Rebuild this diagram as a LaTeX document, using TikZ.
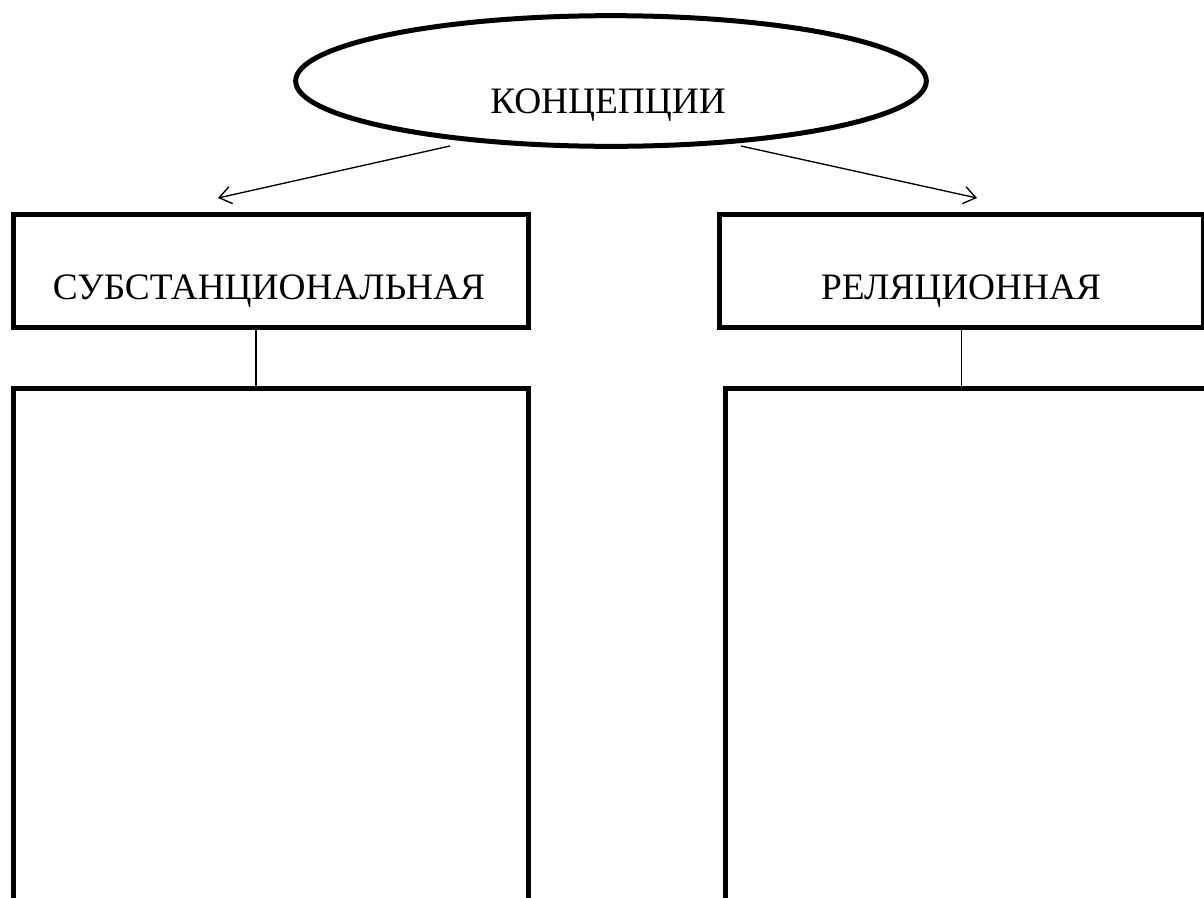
\documentclass[tikz,border=0pt]{standalone}
\usepackage{fontspec}
\setmainfont{Liberation Serif}
\usetikzlibrary{shapes.geometric,arrows.meta,positioning}

\tikzset{
  boldbox/.style={draw,line width=3.75pt,rectangle,inner sep=0pt},
  conceptell/.style={draw,line width=3.75pt,ellipse,inner sep=0pt,minimum width=473pt,minimum height=98pt},
  label/.style={anchor=base,inner sep=0.75pt,font=\fontsize{28}{33}\selectfont},
  arr/.style={line width=1pt,-{Straight Barb[length=9pt,width=13pt,line width=1pt]}},
  link/.style={line width=1pt}
}

\begin{document}
\begin{tikzpicture}[x=0.75pt,y=0.75pt,yscale=-1,xscale=1]
			\useasboundingbox (0,0) rectangle (1204,897);
			\clip (0,0) rectangle (1204,897);
	
			% Ellipse
			\node (concept) at (611,81) [conceptell] {};
			% Text Node
			\node (concepttext) at (608,113) [label] {КОНЦЕПЦИИ};
	
			% Boxes
			\node (sub) at (270.75,271) [boldbox,minimum width=386pt,minimum height=84.75pt] {};
			\node (subbody) at (270.75,385.5) [boldbox,anchor=north,minimum width=386pt,minimum height=600pt] {};
			\node (rel) at (961.5,271) [boldbox,minimum width=362.5pt,minimum height=84.75pt] {};
			\node (relbody) at (967,385.5) [boldbox,anchor=north,minimum width=362.5pt,minimum height=600pt] {};
			% Text Node
			\node (subtext) at (269,299) [label] {СУБСТАНЦИОНАЛЬНАЯ};
			% Text Node
			\node (reltext) at (961,299) [label] {РЕЛЯЦИОННАЯ};
	
			% Arrow ends
			\coordinate (subfrom) at (450,146);
			\coordinate (subto) at (218,198);
			\coordinate (relfrom) at (741,146);
			\coordinate (relto) at (977,198);
			% Connection
			\draw[arr] (subfrom) -- (subto);
			% Connection
			\draw[arr] (relfrom) -- (relto);
			% Connection
			\draw[link] ([xshift=-11pt]sub.south) -- ([xshift=-11pt]sub.south |- subbody.north);
			% Connection
			\draw[link] (rel.south) -- (rel.south |- relbody.north);
\end{tikzpicture}
\end{document}
